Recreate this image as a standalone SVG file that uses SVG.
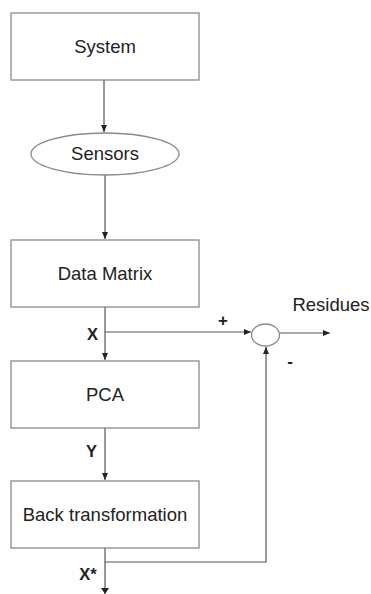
<svg xmlns="http://www.w3.org/2000/svg" width="371" height="594" viewBox="0 0 371 594">
  <style>
    .box { fill: #ffffff; stroke: #8a8a8a; stroke-width: 1.3; }
    .lbl { font-family: "Liberation Sans", Arial, sans-serif; font-size: 18.5px; fill: #222; text-anchor: middle; }
    .var { font-family: "Liberation Sans", Arial, sans-serif; font-size: 16.5px; font-weight: bold; fill: #222; text-anchor: middle; }
    .sign { font-family: "Liberation Sans", Arial, sans-serif; font-size: 17px; font-weight: bold; fill: #222; text-anchor: middle; }
    .wire { fill: none; stroke: #555; stroke-width: 1.2; }
  </style>
  <defs>
    <marker id="arr" markerWidth="8" markerHeight="8" refX="7" refY="4" orient="auto" markerUnits="userSpaceOnUse">
      <path d="M0,1 L7,4 L0,7 Z" fill="#222"/>
    </marker>
  </defs>
  <rect width="371" height="594" fill="#ffffff"/>

  <g id="connectors">
    <path class="wire" d="M104,80 V132" marker-end="url(#arr)"/>
    <path class="wire" d="M105,175 V239" marker-end="url(#arr)"/>
    <path class="wire" d="M105,307 V360" marker-end="url(#arr)"/>
    <path class="wire" d="M105,332 H251" marker-end="url(#arr)"/>
    <path class="wire" d="M280,333 H330" marker-end="url(#arr)"/>
    <path class="wire" d="M105,428 V480" marker-end="url(#arr)"/>
    <path class="wire" d="M105,548 V594"/>
    <path d="M101,588 L105,594 L109,588 Z" fill="#222"/>
    <path class="wire" d="M105,562 H266 V347" marker-end="url(#arr)"/>
    <text class="var" x="92.5" y="340">X</text>
    <text class="var" x="91.5" y="457">Y</text>
    <text class="var" x="88" y="580">X*</text>
    <text class="sign" x="223" y="326">+</text>
    <text class="sign" x="290" y="367">-</text>
    <text class="lbl" x="331" y="311">Residues</text>
  </g>

  <g id="system">
    <rect class="box" x="11" y="13" width="188" height="67"/>
    <text class="lbl" x="105" y="53">System</text>
  </g>

  <g id="sensors">
    <ellipse class="box" cx="105" cy="154" rx="74" ry="21"/>
    <text class="lbl" x="105" y="160">Sensors</text>
  </g>

  <g id="data-matrix">
    <rect class="box" x="11" y="240" width="188" height="67"/>
    <text class="lbl" x="105" y="280">Data Matrix</text>
  </g>

  <g id="summing-junction">
    <ellipse class="box" cx="265.5" cy="335" rx="14" ry="11"/>
  </g>

  <g id="pca">
    <rect class="box" x="11" y="361" width="188" height="67"/>
    <text class="lbl" x="105" y="401">PCA</text>
  </g>

  <g id="back-transformation">
    <rect class="box" x="11" y="481" width="188" height="67"/>
    <text class="lbl" x="105" y="521">Back transformation</text>
  </g>
</svg>
